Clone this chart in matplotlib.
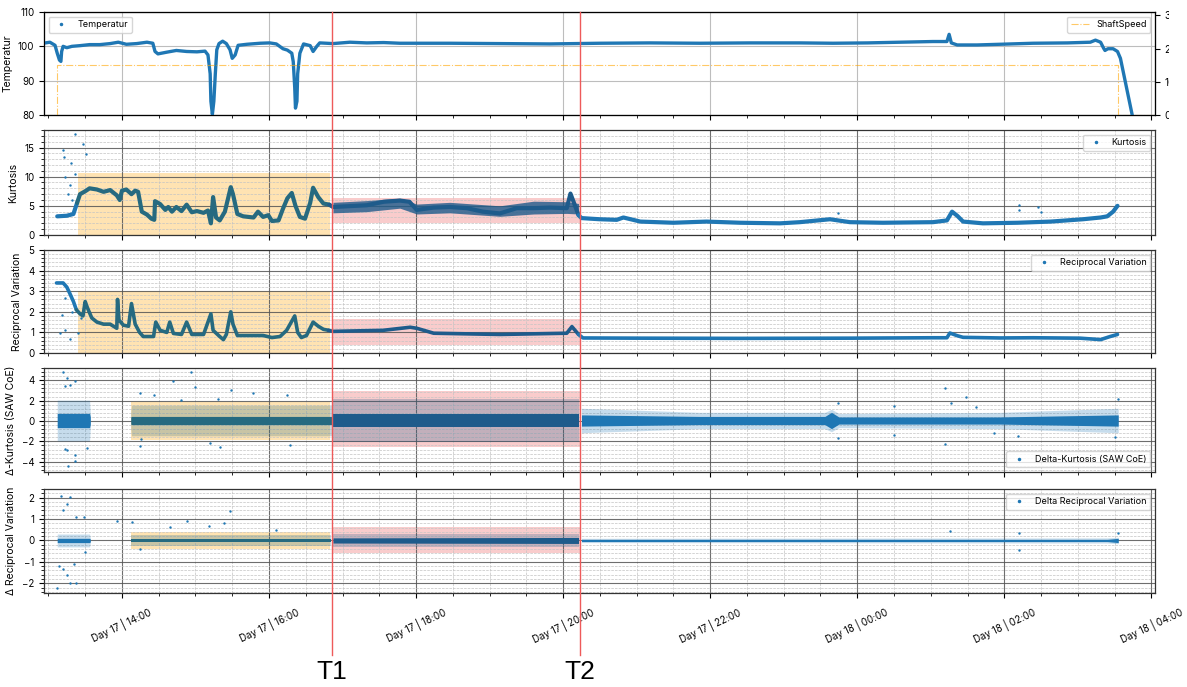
import numpy as np
import matplotlib
matplotlib.use('Agg')
import matplotlib.pyplot as plt
from matplotlib.ticker import MultipleLocator, FuncFormatter, FixedLocator
from matplotlib.lines import Line2D
from matplotlib.transforms import Bbox, TransformedBbox

plt.rcParams['font.family'] = ['Inter', 'DejaVu Sans']

# ---------------- data (time = hours since Day 17 00:00) ----------------
temp_t = [12.96, 13.02, 13.09, 13.12, 13.15, 13.17, 13.18, 13.20, 13.25, 13.32, 13.43, 13.56,
          13.70, 13.84, 13.95, 14.06, 14.20, 14.34, 14.42, 14.45, 14.49, 14.61, 14.74, 14.88,
          15.02, 15.13, 15.17, 15.20, 15.21, 15.23, 15.25, 15.27, 15.29, 15.32, 15.37, 15.42,
          15.47, 15.50, 15.54, 15.58, 15.70, 15.88, 16.01, 16.10, 16.19, 16.25, 16.31, 16.33,
          16.35, 16.36, 16.38, 16.39, 16.42, 16.47, 16.56, 16.60, 16.65, 16.69, 16.87, 17.10,
          17.33, 17.56, 17.78, 18.46, 19.14, 19.82, 20.50, 21.18, 21.86, 22.54, 23.22, 23.67,
          24.14, 24.58, 25.03, 25.22, 25.25, 25.28, 25.36, 25.63, 25.94, 26.39, 26.86, 27.17,
          27.24, 27.31, 27.35, 27.37, 27.41, 27.48, 27.54, 27.58, 27.74]
temp_v = [101.0, 101.2, 100.3, 98.0, 96.0, 95.6, 98.5, 100.0, 99.6, 100.0, 100.2, 100.5,
          100.5, 100.8, 101.2, 100.6, 100.8, 101.2, 100.9, 98.5, 97.8, 98.3, 98.8, 98.5,
          98.4, 98.6, 97.5, 92.0, 84.0, 80.2, 84.0, 92.0, 99.0, 100.8, 101.5, 100.8,
          99.0, 96.5, 97.5, 100.3, 100.6, 100.9, 101.0, 100.7, 99.3, 98.9, 98.0, 95.5,
          88.0, 82.0, 84.0, 92.0, 98.0, 100.7, 100.2, 98.5, 100.0, 101.0, 100.8, 101.2,
          101.0, 101.1, 100.9, 100.9, 100.8, 100.7, 100.9, 101.0, 100.9, 101.0, 101.0, 100.9,
          101.0, 101.2, 101.4, 101.4, 103.5, 101.0, 100.4, 100.4, 100.6, 100.9, 101.0, 101.2,
          101.8, 101.2, 99.5, 98.8, 99.3, 99.3, 98.5, 96.5, 80.0]

shaft_t = [12.96, 13.12, 13.12, 27.55, 27.55, 28.05]
shaft_v = [0, 0, 15, 15, 0, 0]

kurt_t = [13.12, 13.25, 13.34, 13.39, 13.43, 13.50, 13.56, 13.66, 13.75, 13.84, 13.93, 13.97,
          14.00, 14.06, 14.13, 14.18, 14.22, 14.27, 14.34, 14.40, 14.44, 14.45, 14.52, 14.59,
          14.63, 14.68, 14.74, 14.81, 14.88, 14.95, 15.02, 15.11, 15.17, 15.21, 15.24, 15.28,
          15.33, 15.40, 15.48, 15.51, 15.57, 15.65, 15.79, 15.85, 15.92, 15.99, 16.04, 16.13,
          16.19, 16.25, 16.31, 16.36, 16.42, 16.49, 16.56, 16.60, 16.67, 16.74, 16.82, 16.87,
          17.33, 17.56, 17.78, 17.91, 18.01, 18.24, 18.46, 18.69, 18.91, 19.14, 19.37, 19.60,
          19.82, 20.05, 20.10, 20.16, 20.21, 20.25, 20.37, 20.50, 20.73, 20.82, 21.05, 21.50,
          21.95, 22.41, 22.95, 23.22, 23.63, 23.90, 24.35, 25.03, 25.22, 25.29, 25.36, 25.44,
          25.71, 26.18, 26.63, 27.07, 27.31, 27.40, 27.48, 27.54]
kurt_v = [3.2, 3.3, 3.6, 5.5, 7.0, 7.5, 8.0, 7.8, 7.4, 7.7, 6.8, 6.0,
          7.6, 7.8, 7.0, 7.6, 7.4, 4.0, 3.5, 2.8, 2.6, 5.8, 5.3, 4.3,
          4.8, 4.0, 4.8, 4.1, 5.2, 3.9, 4.1, 3.8, 4.2, 2.0, 6.5, 3.0,
          2.5, 4.0, 8.2, 7.0, 3.6, 3.2, 3.0, 4.0, 3.1, 3.4, 2.4, 2.5,
          4.5, 6.3, 7.2, 5.0, 3.1, 2.8, 5.5, 8.1, 6.5, 5.4, 5.2, 4.8,
          5.1, 5.7, 5.9, 5.7, 4.3, 4.7, 4.8, 4.6, 4.0, 3.7, 4.6, 4.6,
          4.7, 4.6, 7.1, 5.1, 3.4, 2.9, 2.8, 2.7, 2.6, 3.0, 2.3, 2.1,
          2.3, 2.1, 2.0, 2.2, 2.7, 2.2, 2.1, 2.2, 2.5, 4.0, 3.3, 2.3,
          2.0, 2.1, 2.3, 2.7, 3.0, 3.2, 4.0, 5.0]
kurt_band_t = [16.87, 17.33, 17.78, 18.01, 18.46, 19.14, 19.60, 20.05, 20.21]
kurt_band_lo = [3.8, 4.0, 4.6, 3.6, 3.8, 3.2, 3.6, 3.7, 3.6]
kurt_band_hi = [5.6, 5.9, 6.3, 5.3, 5.6, 5.0, 5.8, 5.7, 5.4]
kurt_out_t = [13.36, 13.47, 13.20, 13.21, 13.31, 13.51, 13.36, 13.22, 13.29, 13.27, 13.32,
              26.20, 26.20, 26.46, 26.50, 23.74]
kurt_out_v = [17.3, 15.6, 14.6, 13.4, 12.4, 13.9, 10.5, 9.9, 8.5, 7.0, 6.0,
              5.1, 4.3, 4.8, 4.0, 3.7]

rv_t = [13.11, 13.20, 13.25, 13.29, 13.34, 13.38, 13.43, 13.47, 13.50, 13.53, 13.59, 13.66,
        13.75, 13.84, 13.93, 13.94, 13.96, 14.02, 14.09, 14.13, 14.18, 14.24, 14.29, 14.43,
        14.46, 14.52, 14.61, 14.65, 14.70, 14.81, 14.88, 14.95, 15.11, 15.21, 15.24, 15.33,
        15.38, 15.42, 15.48, 15.51, 15.57, 15.74, 15.92, 16.04, 16.15, 16.24, 16.35, 16.39,
        16.44, 16.51, 16.60, 16.67, 16.74, 16.81, 16.87, 17.55, 17.92, 18.01, 18.24, 19.14,
        20.05, 20.12, 20.21, 20.27, 21.05, 22.41, 23.90, 25.03, 25.22, 25.26, 25.36, 25.44,
        25.94, 26.39, 27.03, 27.31, 27.44, 27.54]
rv_v = [3.4, 3.4, 3.2, 2.9, 2.5, 2.1, 1.9, 1.8, 2.5, 2.2, 1.7, 1.5,
        1.4, 1.4, 1.2, 2.6, 1.6, 1.35, 1.3, 2.4, 1.4, 1.0, 0.8, 0.8,
        1.5, 1.1, 1.0, 1.5, 0.95, 0.9, 1.5, 0.9, 0.9, 1.9, 1.1, 0.8,
        0.65, 0.9, 2.0, 1.4, 0.85, 0.85, 0.85, 0.75, 0.8, 1.1, 1.8, 1.0,
        0.75, 0.85, 1.5, 1.3, 1.15, 1.1, 1.05, 1.1, 1.25, 1.2, 0.96, 0.9,
        0.96, 1.28, 0.9, 0.73, 0.72, 0.71, 0.72, 0.74, 0.74, 0.97, 0.84, 0.76,
        0.73, 0.74, 0.72, 0.65, 0.8, 0.9]
rv_out_t = [13.16, 13.29, 13.22, 13.18, 13.32, 13.22, 13.40, 13.45]
rv_out_v = [0.95, 0.7, 1.1, 1.85, 2.0, 2.65, 0.95, 1.7]

dk_t = [13.12, 13.56, 13.57, 14.12, 14.13, 16.85, 16.87, 20.21, 20.25, 21.86, 23.56, 23.65,
        23.75, 25.94, 27.55]
dk_core = [0.7, 0.7, 0.35, 0.35, 0.4, 0.4, 0.65, 0.65, 0.55, 0.4, 0.4, 0.8, 0.35, 0.35, 0.55]
dk_wide = [2.0, 2.0, 0.7, 0.7, 1.5, 1.5, 2.1, 2.1, 1.2, 0.8, 0.8, 1.1, 0.7, 0.8, 1.2]
dk_out_t = [13.20, 13.25, 13.29, 13.36, 13.23, 14.94, 14.70, 15.00, 15.48, 15.78, 14.25,
            14.44, 14.81, 15.31, 16.25, 13.25, 13.23, 13.53, 13.36, 13.36, 13.27, 14.24,
            15.20, 15.33, 16.28, 14.26, 25.20, 25.48, 23.74, 24.50, 25.27, 25.62, 27.55,
            25.20, 23.74, 24.50, 25.86, 26.19, 27.51]
dk_out_v = [4.8, 4.2, 3.5, 3.9, 3.4, 4.85, 3.95, 3.35, 3.0, 2.75, 2.75,
            2.55, 2.1, 2.2, 2.55, -2.8, -2.7, -2.6, -3.3, -3.9, -4.4, -2.45,
            -2.2, -2.5, -2.4, -1.8, 3.2, 2.4, 1.8, 1.5, 1.8, 1.4, 2.2,
            -2.3, -1.7, -1.35, -1.15, -1.5, -1.6]

dr_t = [13.12, 13.56, 13.57, 14.12, 16.85, 16.87, 20.21, 20.25, 27.40, 27.55]
dr_core = [0.1, 0.1, 0.06, 0.08, 0.08, 0.12, 0.14, 0.05, 0.05, 0.10]
dr_wide = [0.3, 0.3, 0.12, 0.25, 0.25, 0.3, 0.3, 0.1, 0.12, 0.15]
dr_out_t = [13.17, 13.30, 13.25, 13.20, 13.38, 13.49, 13.93, 15.47, 14.89, 15.39, 15.18,
            14.66, 16.10, 14.14, 13.12, 13.15, 13.20, 13.25, 13.30, 13.38, 13.35, 13.50,
            14.24, 25.26, 26.20, 26.20, 27.54]
dr_out_v = [2.09, 2.05, 1.71, 1.41, 1.11, 1.11, 0.92, 1.38, 0.92, 0.83, 0.68,
            0.62, 0.47, 0.85, -2.23, -1.17, -1.32, -1.62, -2.0, -2.0, -1.09, -0.56,
            -0.41, 0.42, 0.37, -0.45, 0.37]

# highlighted regions: (start, end) and (low, high) per panel
orange_span_23 = (13.40, 16.83)
orange_span_45 = (14.12, 16.83)
pink_span = (16.86, 20.23)
kurt_boxes = [(0.0, 10.7), (2.0, 6.4)]
rv_boxes = [(0.0, 3.0), (0.38, 1.65)]
dk_boxes = [(-1.9, 1.9), (-2.5, 2.95)]
dr_boxes = [(-0.4, 0.38), (-0.6, 0.65)]

event_t = [16.86, 20.23]
event_lbl = ['T1', 'T2']

# ---------------- styling ----------------
W, H = 1187, 687
BLUE = '#1f77b4'
TEAL = '#266a80'
DARK = '#1e5b8b'
fig = plt.figure(figsize=(W / 100, H / 100), dpi=100)

def add_ax(top, bottom, sharex=None):
    return fig.add_axes([44 / W, 1 - bottom / H, 1111 / W, (bottom - top) / H], sharex=sharex)

ax1 = add_ax(12, 115)
ax2 = add_ax(130, 235, ax1)
ax3 = add_ax(250, 353, ax1)
ax4 = add_ax(368, 472, ax1)
ax5 = add_ax(489, 593, ax1)
axes = [ax1, ax2, ax3, ax4, ax5]


def color_regions(o0):
    return [(-1e9, o0, BLUE), (o0, pink_span[0], TEAL), (pink_span[0], pink_span[1], DARK),
            (pink_span[1], 1e9, BLUE)]


def seg_line(ax, t, v, o0, lw=2.4):
    t = np.asarray(t); v = np.asarray(v)
    for a, b, c in color_regions(o0):
        idx = np.where((t >= a) & (t < b))[0]
        if len(idx) == 0:
            continue
        lo = max(idx[0] - 1, 0)
        ax.plot(t[lo:idx[-1] + 1], v[lo:idx[-1] + 1], color=c, lw=lw, zorder=3,
                solid_capstyle='round', solid_joinstyle='round')


def seg_band(ax, t, half_core, half_wide, o0, center=0.0):
    t = np.asarray(t); hc = np.asarray(half_core); hw = np.asarray(half_wide)
    for a, b, c in color_regions(o0):
        m = (t >= a) & (t < b)
        if m.sum() < 2:
            continue
        ax.fill_between(t[m], center - hw[m], center + hw[m], color=c, alpha=0.25, lw=0, zorder=2)
        ax.fill_between(t[m], center - hc[m], center + hc[m], color=c, alpha=1.0, lw=0, zorder=3)


def shade(ax, o_span, boxes):
    ax.fill_between(list(o_span), boxes[0][0], boxes[0][1], color='orange', alpha=0.3, lw=0, zorder=0.2)
    ax.fill_between(list(pink_span), boxes[1][0], boxes[1][1], color='lightcoral', alpha=0.4, lw=0, zorder=0.2)


def pt_handle():
    return Line2D([], [], ls='', marker='.', ms=3, color=BLUE)

# panel 1
ax1.plot(temp_t, temp_v, color=BLUE, lw=2.4, zorder=3)
ax1.set_ylim(80, 110)
ax1.yaxis.set_major_locator(FixedLocator([80, 90, 100, 110]))
ax1.set_ylabel('Temperatur', fontsize=7.5)
axr = ax1.twinx()
axr.plot(shaft_t, shaft_v, color='orange', ls='-.', lw=0.8, alpha=0.6)
axr.set_ylim(0, 31)
axr.set_yticks([0, 10, 20, 30])
axr.tick_params(labelsize=7)
clipbox = TransformedBbox(Bbox([[0, 0], [1169 / W, 1]]), fig.transFigure)
for tk in axr.yaxis.get_major_ticks():
    tk.label2.set_clip_on(True)
    tk.label2.set_clip_box(clipbox)
ax1.legend([pt_handle()], ['Temperatur'], loc='upper left', fontsize=6.5)
axr.legend([Line2D([], [], ls='-.', lw=0.8, color='orange', alpha=0.6)], ['ShaftSpeed'],
           loc='upper right', fontsize=6.5)
ax1.grid(True, which='major', color='#bdbdbd', lw=0.8)

# panel 2
shade(ax2, orange_span_23, kurt_boxes)
ax2.fill_between(kurt_band_t, kurt_band_lo, kurt_band_hi, color=DARK, alpha=0.8, lw=0, zorder=2)
ax2.scatter(kurt_out_t, kurt_out_v, s=3, color=BLUE, zorder=3, lw=0)
seg_line(ax2, kurt_t, kurt_v, orange_span_23[0], lw=3.0)
ax2.set_ylim(0, 18)
ax2.yaxis.set_major_locator(MultipleLocator(5))
ax2.yaxis.set_minor_locator(MultipleLocator(1))
ax2.set_ylabel('Kurtosis', fontsize=7.5)
ax2.legend([pt_handle()], ['Kurtosis'], loc='upper right', fontsize=6.5)

# panel 3
shade(ax3, orange_span_23, rv_boxes)
ax3.scatter(rv_out_t, rv_out_v, s=3, color=BLUE, zorder=3, lw=0)
seg_line(ax3, rv_t, rv_v, orange_span_23[0], lw=2.6)
ax3.set_ylim(0, 5)
ax3.yaxis.set_major_locator(MultipleLocator(1))
ax3.yaxis.set_minor_locator(MultipleLocator(0.2))
ax3.set_ylabel('Reciprocal Variation', fontsize=7.5)
ax3.legend([pt_handle()], ['Reciprocal Variation'], loc='upper right', fontsize=6.5)

# panel 4
shade(ax4, orange_span_45, dk_boxes)
seg_band(ax4, dk_t, dk_core, dk_wide, orange_span_45[0], center=0.05)
ax4.scatter(dk_out_t, dk_out_v, s=3, color=BLUE, zorder=3, lw=0)
ax4.set_ylim(-5, 5.2)
ax4.yaxis.set_major_locator(MultipleLocator(2))
ax4.yaxis.set_minor_locator(MultipleLocator(0.4))
ax4.set_ylabel('Δ-Kurtosis (SAW CoE)', fontsize=7.5)
ax4.legend([pt_handle()], ['Delta-Kurtosis (SAW CoE)'], loc='lower right', fontsize=6.5)

# panel 5
shade(ax5, orange_span_45, dr_boxes)
seg_band(ax5, dr_t, dr_core, dr_wide, orange_span_45[0], center=0.0)
ax5.scatter(dr_out_t, dr_out_v, s=3, color=BLUE, zorder=3, lw=0)
ax5.set_ylim(-2.45, 2.4)
ax5.yaxis.set_major_locator(MultipleLocator(1))
ax5.yaxis.set_minor_locator(MultipleLocator(0.2))
ax5.set_ylabel('Δ Reciprocal Variation', fontsize=7.5)
ax5.legend([pt_handle()], ['Delta Reciprocal Variation'], loc='upper right', fontsize=6.5)

# common x axis
def fmt(h, pos=None):
    day = 17 + int(h // 24)
    return f'Day {day} | {int(round(h % 24)):02d}:00'

ax1.set_xlim(12.94, 28.05)
ax1.xaxis.set_major_locator(MultipleLocator(2))
ax1.xaxis.set_minor_locator(MultipleLocator(0.5))
ax5.xaxis.set_major_formatter(FuncFormatter(fmt))

for ax in axes:
    ax.set_axisbelow(True)
    ax.tick_params(labelsize=7, which='both', direction='out')
    ax.tick_params(which='minor', length=2)
    for sp in ax.spines.values():
        sp.set_linewidth(0.9)
        sp.set_color('#333333')
    if ax is not ax5:
        ax.tick_params(labelbottom=False)
for ax in axes[1:]:
    ax.grid(True, which='major', color='#555555', lw=0.8, alpha=0.85)
    ax.grid(True, which='minor', color='#c4c4c4', ls='--', lw=0.5)

for lbl in ax5.get_xticklabels():
    lbl.set_rotation(25)
    lbl.set_ha('center')
ax5.tick_params(axis='x', pad=6)

# event markers spanning the whole figure
for t, name in zip(event_t, event_lbl):
    xpx = ax1.transData.transform((t, 0))[0]
    xf = xpx / (fig.get_figwidth() * fig.dpi)
    fig.add_artist(Line2D([xf, xf], [1 - 12 / H, 1 - 655 / H], transform=fig.transFigure,
                          color='#ee5a5a', lw=1.0, zorder=10))
    fig.text(xf, 1 - 672 / H, name, fontsize=19, ha='center', va='center',
             family=['Liberation Sans', 'DejaVu Sans'])

fig.savefig('out.png', dpi=100)
